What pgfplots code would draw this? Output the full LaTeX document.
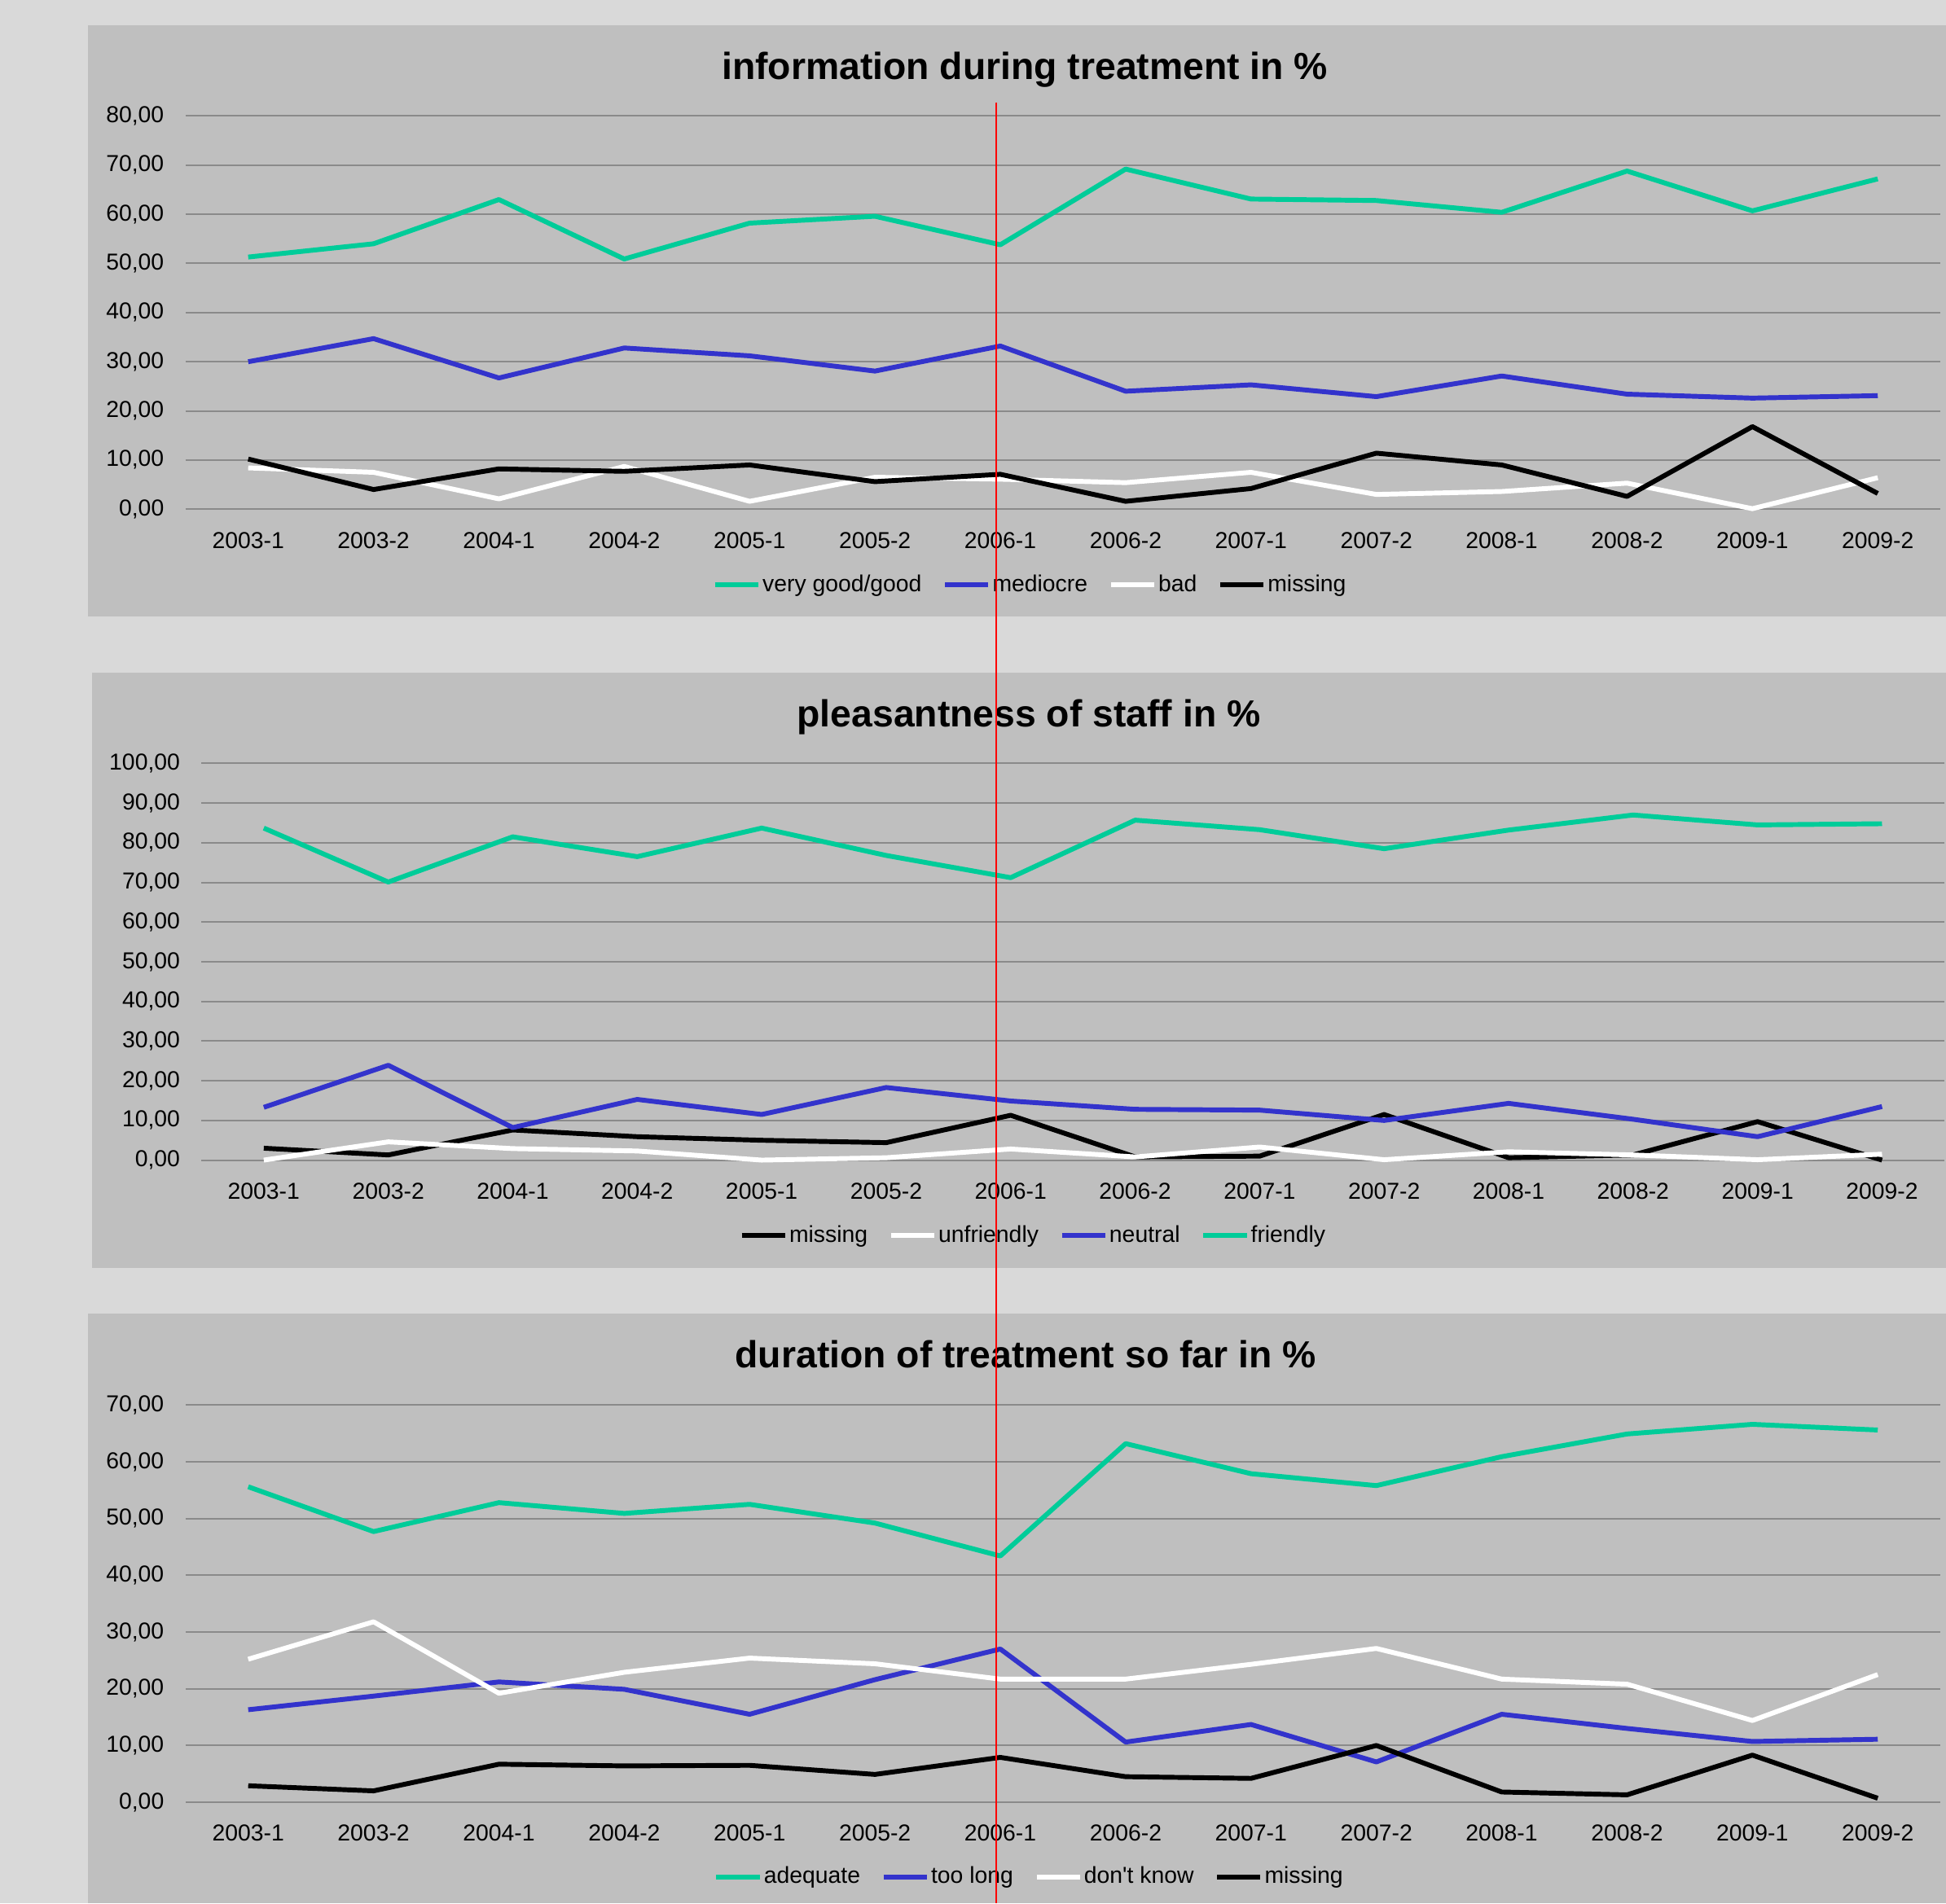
\documentclass[border=0pt]{standalone}
\usepackage{fontspec}
\setmainfont{Liberation Sans}
\usepackage{pgfplots}
\usepackage{pgfplotstable}
\pgfplotsset{compat=1.18}
\definecolor{outerbg}{HTML}{D9D9D9}
\definecolor{panelbg}{HTML}{BFBFBF}
\definecolor{gridgray}{HTML}{8A8A8A}
\definecolor{sgreen}{HTML}{00CC99}
\definecolor{sblue}{HTML}{3333CC}

% x: period index, g/b/w/k: series
\pgfplotstableread{
x g b w k
0 51.3 30.0 8.4 10.2
1 54.0 34.7 7.5 4.0
2 63.0 26.7 2.1 8.2
3 50.9 32.8 8.7 7.7
4 58.2 31.2 1.6 9.0
5 59.6 28.1 6.5 5.6
6 53.8 33.2 6.1 7.1
7 69.2 24.0 5.4 1.6
8 63.1 25.3 7.5 4.2
9 62.8 22.9 3.0 11.4
10 60.4 27.1 3.6 9.0
11 68.8 23.4 5.3 2.6
12 60.7 22.6 0.1 16.8
13 67.2 23.1 6.4 3.2
}\infotab

\pgfplotstableread{
x k w b g
0 3.0 0.0 13.3 83.7
1 1.3 4.6 23.9 70.1
2 7.6 2.9 8.2 81.5
3 5.9 2.3 15.3 76.5
4 5.0 0.0 11.5 83.7
5 4.4 0.6 18.3 76.8
6 11.3 2.8 14.9 71.2
7 0.8 0.8 12.8 85.7
8 1.0 3.3 12.6 83.3
9 11.5 0.1 10.0 78.5
10 0.6 2.1 14.3 83.2
11 1.3 1.3 10.3 87.0
12 9.7 0.1 5.9 84.5
13 0.0 1.5 13.5 84.8
}\stafftab

\pgfplotstableread{
x g b w k
0 55.6 16.3 25.2 2.9
1 47.7 18.7 31.8 2.0
2 52.8 21.2 19.2 6.7
3 50.9 19.9 22.9 6.4
4 52.5 15.5 25.4 6.5
5 49.2 21.6 24.4 4.9
6 43.4 27.0 21.7 7.9
7 63.2 10.6 21.7 4.5
8 57.9 13.7 24.3 4.2
9 55.8 7.1 27.1 10.0
10 60.9 15.5 21.7 1.8
11 64.9 13.0 20.8 1.3
12 66.6 10.7 14.4 8.3
13 65.6 11.1 22.5 0.7
}\durtab

\pgfplotsset{
  panel/.style={
    scale only axis,
    anchor=south west,
    clip=false,
    xmin=-0.5, xmax=13.5, ymin=0,
    xtick={0,...,13},
    xticklabels={2003-1,2003-2,2004-1,2004-2,2005-1,2005-2,2006-1,2006-2,2007-1,2007-2,2008-1,2008-2,2009-1,2009-2},
    ymajorgrids,
    major grid style={color=gridgray, line width=0.66pt},
    axis line style={draw=none},
    major tick length=0pt,
    tick label style={font=\fontsize{9.3}{11}\selectfont},
    xticklabel style={inner sep=0pt, yshift=-9pt},
    yticklabel style={inner sep=0pt, xshift=-8.5pt,
      /pgf/number format/fixed, /pgf/number format/fixed zerofill,
      /pgf/number format/precision=2, /pgf/number format/use comma,
      /pgf/number format/assume math mode=true},
    legend style={draw=none, fill=none, inner sep=0pt, anchor=center,
      font=\fontsize{9.3}{11}\selectfont,
      nodes={inner sep=0.7pt},
      /tikz/every even column/.append style={column sep=7.7pt}},
    legend columns=-1,
    legend image code/.code={\draw[##1] (0pt,0pt) -- (17.5pt,0pt);},
  },
  ser/.style={line width=1.95pt, line join=round, #1},
}

\begin{document}
\begin{tikzpicture}[x=1pt,y=1pt]
\useasboundingbox (0,0) rectangle (784,767);
\fill[outerbg] (0,0) rectangle (784,767);
\fill[panelbg] (35.45,518.45) rectangle (784,756.9);
\fill[panelbg] (37.1,256) rectangle (784,496);
\fill[panelbg] (35.45,0) rectangle (784,237.7);

% Panel 1
\begin{axis}[panel, at={(74.75pt,561.8pt)}, width=707pt, height=158.45pt,
  ymax=80, ytick={0,10,...,80},
  legend style={at={(0.4813,-0.193)}}]
\addplot[ser=sgreen] table[x=x,y=g]{\infotab};
\addlegendentry{very good/good}
\addplot[ser=sblue] table[x=x,y=b]{\infotab};
\addlegendentry{mediocre}
\addplot[ser=white] table[x=x,y=w]{\infotab};
\addlegendentry{bad}
\addplot[ser=black] table[x=x,y=k]{\infotab};
\addlegendentry{missing}
\end{axis}

% Panel 2
\begin{axis}[panel, at={(81.2pt,299.5pt)}, width=702.1pt, height=159.85pt,
  ymax=100, ytick={0,10,...,100},
  legend style={at={(0.4772,-0.19)}}]
\addplot[ser=black] table[x=x,y=k]{\stafftab};
\addlegendentry{missing}
\addplot[ser=white] table[x=x,y=w]{\stafftab};
\addlegendentry{unfriendly}
\addplot[ser=sblue] table[x=x,y=b]{\stafftab};
\addlegendentry{neutral}
\addplot[ser=sgreen] table[x=x,y=g]{\stafftab};
\addlegendentry{friendly}
\end{axis}

% Panel 3
\begin{axis}[panel, at={(74.75pt,40.75pt)}, width=707pt, height=160.05pt,
  ymax=70, ytick={0,10,...,70},
  legend style={at={(0.4808,-0.188)}}]
\addplot[ser=sgreen] table[x=x,y=g]{\durtab};
\addlegendentry{adequate}
\addplot[ser=sblue] table[x=x,y=b]{\durtab};
\addlegendentry{too long}
\addplot[ser=white] table[x=x,y=w]{\durtab};
\addlegendentry{don\textquotesingle t know}
\addplot[ser=black] table[x=x,y=k]{\durtab};
\addlegendentry{missing}
\end{axis}

% Titles
\node[anchor=base, font=\fontsize{15.2}{18}\selectfont\bfseries] at (412.9,734.9) {information during treatment in \%};
\node[anchor=base, font=\fontsize{15.2}{18}\selectfont\bfseries] at (414.5,474.0) {pleasantness of staff in \%};
\node[anchor=base, font=\fontsize{15.2}{18}\selectfont\bfseries] at (413.2,215.8) {duration of treatment so far in \%};

% red marker line
\draw[red, line width=0.66pt] (401.3,725.75) -- (401.3,0);
\end{tikzpicture}
\end{document}
